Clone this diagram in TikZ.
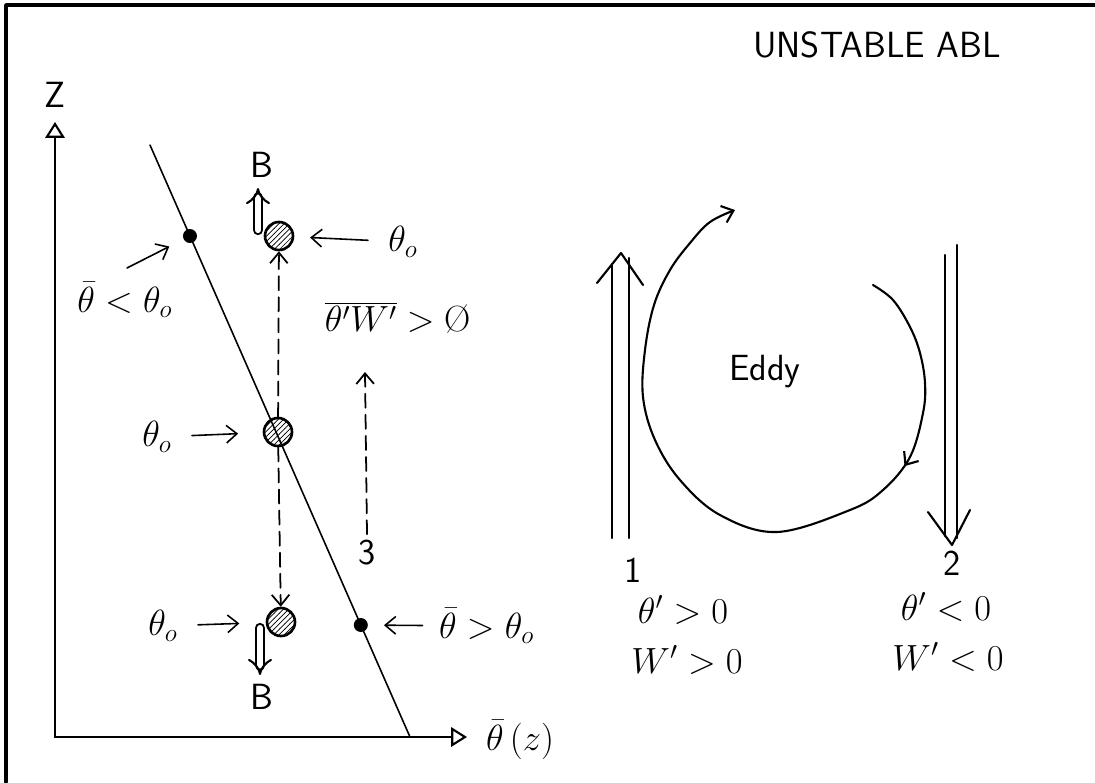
\documentclass[tikz,border=0pt]{standalone}
\usetikzlibrary{arrows.meta,patterns,calc,decorations.markings}
\begin{document}
\begin{tikzpicture}[x=0.02cm,y=-0.02cm,font=\huge,line join=round,line cap=round,>={Straight Barb[length=6pt,width=10pt]}]
\tikzset{
  parcel/.style={circle,draw,line width=1.5pt,minimum size=0.56cm,inner sep=0pt,pattern=north east lines},
  dot/.style={circle,fill,inner sep=0pt,minimum size=0.28cm},
  axis/.style={line width=1.2pt,-{Triangle[open,length=9pt,width=11pt]}},
  dashline/.style={line width=1pt,dash pattern=on 8pt off 4pt},
  thin line/.style={line width=0.9pt},
  hand/.style={line width=1.2pt},
  buoy/.style={double,double distance=3.5pt,line width=1.2pt,-{Implies}}
}
\useasboundingbox (0,0) rectangle (1095,782);
\draw[line width=2pt] (6,782) -- (6,5) -- (1095,5);
% axes
\coordinate (O) at (55,737);
\draw[axis] (O) -- (55,122) coordinate (zt);
\draw[axis] (O) -- (467,737) coordinate (xt);
\node (zlab) at (55,95) {\sffamily Z};
\node[anchor=west] (xlab) at (480,740) {$\bar{\theta}\,(z)$};
% mean profile
\draw[thin line] (150,145) coordinate (ltop) -- (410,737) coordinate (lbot);
\node[dot] (dup) at ($(ltop)!0.1537!(lbot)$) {};
\node[dot] (ddn) at ($(ltop)!0.8108!(lbot)$) {};
% parcels
\node[parcel] (ptop) at (279,236) {};
\node[parcel] (pmid) at (278,432) {};
\node[parcel] (pbot) at (281,622) {};
\draw[dashline,->] (pmid) -- (ptop);
\draw[dashline,->] (pmid) -- (pbot);
% buoyancy
\node (bup) at (262,165) {\sffamily B};
\node (bdn) at (262,697) {\sffamily B};
\draw[buoy] ($(ptop)+(-21,-6)$) -- ++(0,-42);
\draw[buoy] ($(pbot)+(-21,6)$) -- ++(0,47);
% labels
\node (otop) at (403,242) {$\theta_o$};
\draw[->,thin line,shorten <=8pt,shorten >=9pt] (otop) -- (ptop);
\node (omid) at (157,437) {$\theta_o$};
\draw[->,thin line,shorten <=8pt,shorten >=14pt] (omid) -- (pmid);
\node (obot) at (163,626) {$\theta_o$};
\draw[->,thin line,shorten <=8pt,shorten >=15pt] (obot) -- (pbot);
\node (tlt) at (125,300) {$\bar{\theta} < \theta_o$};
\coordinate (tltfoot) at (127,268);
\draw[->,thin line,shorten >=9pt] (tltfoot) -- (dup);
\node[anchor=west] (tgt) at (433,626) {$\bar{\theta} > \theta_o$};
\draw[->,thin line,shorten <=6pt,shorten >=9pt] (tgt) -- (ddn);
\node (flux) at (398,318) {$\overline{\theta' W'} > \mbox{\O}$};
\node (n3) at (367,553) {\sffamily 3};
\coordinate (up3) at (365,372);
\draw[dashline,->] (n3.north) -- (up3);
% eddy
\node (title) at (877,45) {\sffamily UNSTABLE ABL};
\node (eddy) at (765,372) {\sffamily Eddy};
\draw[hand,->,postaction={decorate},decoration={markings,mark=at position 0.26 with {\arrow{>}}}]
  plot[smooth,tension=0.6] coordinates {(873,285) (893,300) (910,327) (920,353) (925,383) (923,413) (910,457) (883,490) (850,510) (777,532) (720,515) (680,480) (655,440) (643,397) (645,350) (654,305) (670,270) (690,243) (710,222) (735,210)};
% updraft 1
\draw[hand] (612,538) -- (612,264) (629,538) -- (629,258);
\draw[hand] (597,283) -- (621,253) -- (643,285);
\node (n1) at (633,570) {\sffamily 1};
\node (up1) at (683,610) {$\theta' > 0$};
\node (up2) at (687,660) {$W' > 0$};
% downdraft 2
\draw[hand] (945,255) -- (945,536) (957,245) -- (957,538);
\draw[hand] (928,512) -- (952,545) -- (970,510);
\node (n2) at (952,563) {\sffamily 2};
\node (dn1) at (946,607) {$\theta' < 0$};
\node (dn2) at (948,657) {$W' < 0$};
\end{tikzpicture}
\end{document}
